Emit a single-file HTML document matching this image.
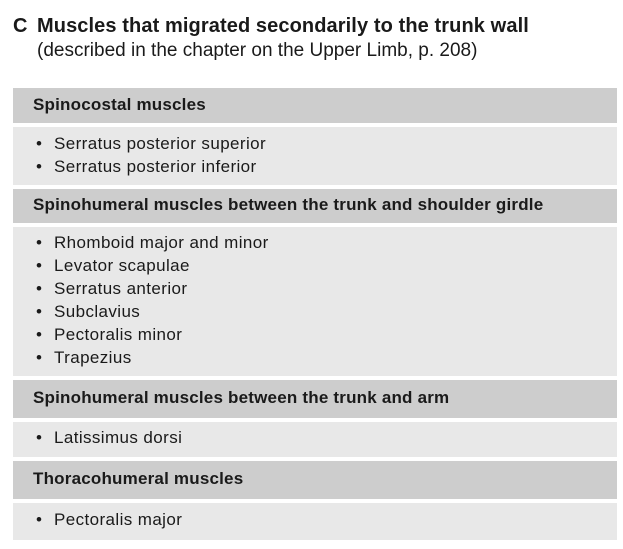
<!DOCTYPE html>
<html><head><style>
body{margin:0;width:623px;height:549px;background:#fff;position:relative;font-family:"Liberation Sans",sans-serif;color:#1a1a1a;overflow:hidden}
.a{position:absolute;white-space:nowrap}
.h{position:absolute;left:13px;width:604px;background:#cdcdcd}
.b{position:absolute;left:13px;width:604px;background:#e8e8e8}
.ht{position:absolute;left:20px;font-weight:bold;font-size:17px;letter-spacing:0.2px;white-space:nowrap}
.it{position:absolute;left:41px;font-size:17px;line-height:23px;letter-spacing:0.4px;white-space:nowrap}
.it div:before{content:"•";position:absolute;left:-18px}
</style></head><body>
<div class="a" style="left:13px;top:15px;font-size:20px;font-weight:bold">C</div>
<div class="a" style="left:37px;top:15px;font-size:20px;font-weight:bold;letter-spacing:0.1px">Muscles that migrated secondarily to the trunk wall</div>
<div class="a" style="left:37px;top:40px;font-size:19px;letter-spacing:0px">(described in the chapter on the Upper Limb, p. 208)</div>

<div class="h" style="top:88px;height:35px"><div class="ht" style="top:7px">Spinocostal muscles</div></div>
<div class="b" style="top:127px;height:58px"><div class="it" style="top:5px"><div>Serratus posterior superior</div><div>Serratus posterior inferior</div></div></div>

<div class="h" style="top:189px;height:34px"><div class="ht" style="top:6px">Spinohumeral muscles between the trunk and shoulder girdle</div></div>
<div class="b" style="top:227px;height:149px"><div class="it" style="top:4px"><div>Rhomboid major and minor</div><div>Levator scapulae</div><div>Serratus anterior</div><div>Subclavius</div><div>Pectoralis minor</div><div>Trapezius</div></div></div>

<div class="h" style="top:380px;height:38px"><div class="ht" style="top:8px">Spinohumeral muscles between the trunk and arm</div></div>
<div class="b" style="top:422px;height:35px"><div class="it" style="top:4px"><div>Latissimus dorsi</div></div></div>

<div class="h" style="top:461px;height:38px"><div class="ht" style="top:8px">Thoracohumeral muscles</div></div>
<div class="b" style="top:503px;height:37px"><div class="it" style="top:5px"><div>Pectoralis major</div></div></div>
</body></html>
